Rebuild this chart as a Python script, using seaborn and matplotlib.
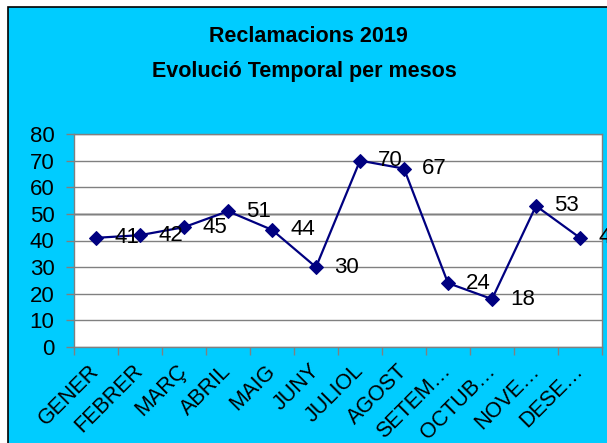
import matplotlib
matplotlib.use("Agg")
import matplotlib.pyplot as plt
from matplotlib.patches import Rectangle
import numpy as np
import pandas as pd
import seaborn as sns

months = ["GENER", "FEBRER", "MARÇ", "ABRIL", "MAIG", "JUNY",
          "JULIOL", "AGOST", "SETEM…", "OCTUB…", "NOVE…", "DESE…"]
reclamacions = [41, 42, 45, 51, 44, 30, 70, 67, 24, 18, 53, 41]
title_lines = ["Reclamacions 2019", "Evolució Temporal per mesos"]

sns.set_theme(style="white")
plt.rcParams["font.family"] = ["Liberation Sans", "DejaVu Sans"]
plt.rcParams["text.color"] = "black"
plt.rcParams["xtick.color"] = "black"
plt.rcParams["ytick.color"] = "black"

W, H = 607, 443
fig = plt.figure(figsize=(W / 100, H / 100), dpi=100)
fig.patch.set_facecolor("white")
bg = Rectangle((8 / W, -0.05), 1.1, 1 - 7 / H + 0.05, transform=fig.transFigure,
               facecolor="#00CCFF", edgecolor="black", linewidth=1.2, zorder=-5)
fig.patches.append(bg)

ax = fig.add_axes([74 / W, 1 - 347 / H, (602 - 74) / W, (347 - 134) / H])
ax.set_zorder(2)
ax.set_facecolor("white")

df = pd.DataFrame({"mes": months, "valor": reclamacions})
x = np.arange(len(months))
sns.lineplot(x=x, y=df["valor"], ax=ax, color="#000080", linewidth=1.6,
             marker="D", markersize=7.5, markeredgecolor="#000080")

for xi, v in zip(x, reclamacions):
    ax.annotate(str(v), (xi, v), xytext=(13, 0), textcoords="offset points",
                ha="left", va="center", fontsize=16, color="black", annotation_clip=False)

ax.set_xlim(-0.5, len(months) - 0.5)
ax.set_ylim(0, 80)
ax.set_yticks(range(0, 81, 10))
ax.yaxis.grid(True, color="#808080", linewidth=1)
ax.axhline(50, color="black", linewidth=1, zorder=0.5)
ax.set_axisbelow(True)

ax.set_xticks(x)
ax.set_xticklabels(months, rotation=45, ha="right", va="center", rotation_mode="anchor", fontsize=15.5)
ax.set_xticks(np.arange(-0.5, len(months)), minor=True)
ax.tick_params(axis="x", which="major", length=0, pad=15)
ax.tick_params(axis="x", which="minor", length=6, width=1, color="#808080", direction="out", bottom=True)
ax.tick_params(axis="y", length=6, width=1, color="#808080", direction="out", left=True, pad=8, labelsize=16)
ax.set_xlabel("")
ax.set_ylabel("")
for s in ax.spines.values():
    s.set_color("#808080")
    s.set_linewidth(1)

fig.text(308 / W, 1 - 36 / H, title_lines[0], ha="center", va="center", fontsize=15.5, fontweight="bold")
fig.text(304 / W, 1 - 72 / H, title_lines[1], ha="center", va="center", fontsize=15.5, fontweight="bold")

fig.savefig("out.png", dpi=100, facecolor=fig.get_facecolor())
